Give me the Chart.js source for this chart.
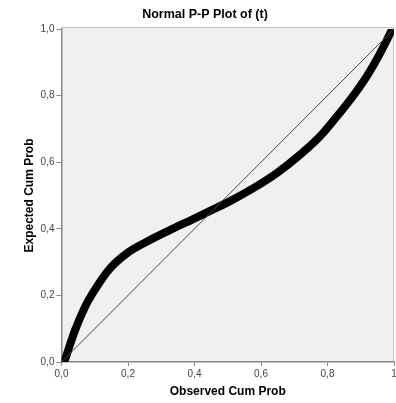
<!DOCTYPE html>
<html>
<head>
<meta charset="utf-8">
<script src="https://cdn.jsdelivr.net/npm/chart.js@4"></script>
<style>
  html, body { margin: 0; padding: 0; background: #fff; }
  #wrap { width: 396px; height: 403px; }
</style>
</head>
<body>
<div id="wrap"><canvas id="pp-chart"></canvas></div>
<script>
// observed vs expected cumulative probability
const observedCumProb = [0.01, 0.041, 0.071, 0.101, 0.146, 0.196, 0.256, 0.326, 0.396, 0.447, 0.507, 0.577, 0.647, 0.717, 0.777, 0.828, 0.868, 0.918, 0.958, 0.995];
const expectedCumProb = [0.005, 0.096, 0.166, 0.218, 0.281, 0.326, 0.361, 0.396, 0.429, 0.454, 0.483, 0.522, 0.567, 0.622, 0.677, 0.737, 0.787, 0.858, 0.927, 1.0];
const refLine = [0, 1];
const xTickLabels = ['0,0', '0,2', '0,4', '0,6', '0,8', '1'];
const yTickLabels = ['0,0', '0,2', '0,4', '0,6', '0,8', '1,0'];

Chart.defaults.font.family = 'Arial, "Liberation Sans", sans-serif';

const plotFrame = {
  id: 'plotFrame',
  beforeDraw(chart) {
    const { ctx, chartArea: a } = chart;
    ctx.save();
    ctx.fillStyle = '#f0f0f0';
    ctx.fillRect(a.left, a.top - 2, a.right - a.left, a.bottom - a.top + 2);
    ctx.strokeStyle = '#c4c4c4';
    ctx.lineWidth = 1;
    ctx.beginPath();
    ctx.moveTo(a.left, a.top - 1.5);
    ctx.lineTo(a.right - 0.5, a.top - 1.5);
    ctx.lineTo(a.right - 0.5, a.bottom);
    ctx.stroke();
    ctx.restore();
  }
};

const graph = document.getElementById('pp-chart');

const chart = new Chart(graph, {
  type: 'scatter',
  data: {
    datasets: [{
      data: refLine.map(v => ({ x: v, y: v })),
      showLine: true,
      borderColor: '#4a4a4a',
      borderWidth: 1,
      pointRadius: 0,
      order: 0
    }, {
      data: observedCumProb.map((v, i) => ({ x: v, y: expectedCumProb[i] })),
      showLine: true,
      borderColor: '#000',
      borderWidth: 8,
      borderCapStyle: 'round',
      borderJoinStyle: 'round',
      cubicInterpolationMode: 'monotone',
      pointRadius: 0,
      order: 1
    }]
  },
  options: {
    responsive: true,
    maintainAspectRatio: false,
    animation: false,
    layout: { padding: { left: 16, right: 2, top: 0, bottom: 0 } },
    plugins: {
      legend: { display: false },
      tooltip: { enabled: false },
      title: {
        display: true,
        text: 'Normal P-P Plot of (t)',
        color: '#000',
        font: { size: 12.5, weight: 'bold' },
        padding: { top: 7, bottom: 7 }
      }
    },
    scales: {
      x: {
        min: 0,
        max: 1,
        ticks: {
          stepSize: 0.2,
          color: '#444',
          font: { size: 10 },
          padding: 2,
          maxRotation: 0,
          callback: (v, i) => xTickLabels[i]
        },
        grid: { drawOnChartArea: false, tickLength: 4, color: '#888' },
        border: { color: '#888', width: 1.5 },
        title: {
          display: true,
          text: 'Observed Cum Prob',
          color: '#000',
          font: { size: 12, weight: 'bold' },
          padding: { top: 0, bottom: 4 }
        },
        afterFit: s => { s.height = 41; s.paddingRight = 0; }
      },
      y: {
        min: 0,
        max: 1,
        ticks: {
          stepSize: 0.2,
          color: '#444',
          font: { size: 10 },
          padding: 2,
          callback: (v, i) => yTickLabels[i]
        },
        grid: { drawOnChartArea: false, tickLength: 5, color: '#888' },
        border: { color: '#888', width: 1.5 },
        title: {
          display: true,
          text: 'Expected Cum Prob',
          color: '#000',
          font: { size: 12, weight: 'bold' },
          padding: { top: 6, bottom: 0 }
        },
        afterFit: s => { s.width = 45.5; }
      }
    }
  },
  plugins: [plotFrame]
});
</script>
</body>
</html>
